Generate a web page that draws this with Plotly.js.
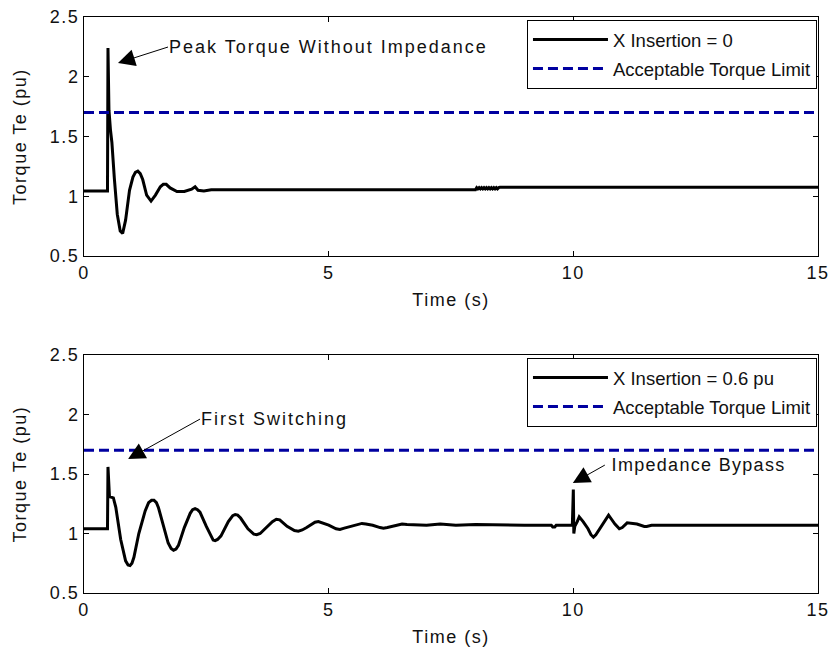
<!DOCTYPE html>
<html>
<head>
<meta charset="utf-8">
<script src="https://cdn.plot.ly/plotly-3.0.1.min.js"></script>
<style>
html,body{margin:0;padding:0;background:#fff;}
#chart{width:833px;height:655px;}
.xtick text, .ytick text, .x2tick text, .y2tick text,
.xtitle, .ytitle, .x2title, .y2title {letter-spacing:1.5px;}
.annotation-text {letter-spacing:2px;}
g.annotation[data-index="2"] .annotation-text {letter-spacing:1.3px;}
</style>
</head>
<body>
<div id="chart"></div>
<script>
// ---- data ----
var timeTop = [0, 0.48, 0.49, 0.51, 0.54, 0.57, 0.62, 0.68, 0.74, 0.79, 0.85, 0.93, 1.0, 1.05, 1.1, 1.15, 1.2, 1.28, 1.37, 1.46, 1.56, 1.62, 1.68, 1.76, 1.9, 2.05, 2.2, 2.27, 2.33, 2.45, 2.6, 8.0, 8.025, 8.05, 8.075, 8.1, 8.125, 8.15, 8.175, 8.2, 8.225, 8.25, 8.275, 8.3, 8.325, 8.35, 8.375, 8.4, 8.425, 8.45, 8.475, 8.5, 15];
var torqueTop = [1.045, 1.045, 2.24, 1.72, 1.56, 1.45, 1.15, 0.85, 0.71, 0.69, 0.80, 1.05, 1.16, 1.20, 1.21, 1.19, 1.14, 1.01, 0.96, 1.01, 1.08, 1.10, 1.10, 1.07, 1.04, 1.04, 1.06, 1.08, 1.05, 1.045, 1.055, 1.055, 1.072, 1.062, 1.072, 1.062, 1.072, 1.062, 1.072, 1.062, 1.072, 1.062, 1.072, 1.062, 1.072, 1.062, 1.072, 1.062, 1.072, 1.062, 1.072, 1.075, 1.075];

var timeBot = [0, 0.48, 0.49, 0.52, 0.6, 0.65, 0.75, 0.85, 0.9, 0.94, 0.98, 1.02, 1.12, 1.25, 1.32, 1.38, 1.43, 1.48, 1.52, 1.62, 1.72, 1.78, 1.83, 1.88, 1.93, 2.05, 2.17, 2.22, 2.27, 2.32, 2.37, 2.5, 2.6, 2.64, 2.68, 2.73, 2.8, 2.95, 3.04, 3.09, 3.14, 3.2, 3.35, 3.47, 3.53, 3.6, 3.7, 3.85, 3.93, 4.0, 4.15, 4.3, 4.38, 4.46, 4.55, 4.72, 4.79, 4.86, 5.0, 5.15, 5.23, 5.32, 5.45, 5.6, 5.68, 5.76, 5.9, 6.05, 6.12, 6.2, 6.3, 6.45, 6.5, 6.6, 6.8, 7.0, 7.28, 7.6, 8.0, 8.5, 9.0, 9.55, 9.58, 9.62, 9.65, 9.98, 9.99, 10.0, 10.01, 10.03, 10.08, 10.12, 10.2, 10.3, 10.36, 10.41, 10.46, 10.55, 10.65, 10.72, 10.78, 10.85, 10.94, 11.0, 11.1, 11.3, 11.45, 11.5, 11.6, 15];
var torqueBot = [1.04, 1.04, 1.56, 1.31, 1.30, 1.22, 0.95, 0.77, 0.735, 0.73, 0.75, 0.80, 1.0, 1.19, 1.26, 1.28, 1.28, 1.26, 1.22, 1.06, 0.92, 0.875, 0.86, 0.87, 0.90, 1.05, 1.17, 1.20, 1.21, 1.20, 1.18, 1.06, 0.97, 0.945, 0.94, 0.95, 0.98, 1.10, 1.15, 1.16, 1.155, 1.13, 1.04, 0.995, 0.99, 1.0, 1.04, 1.10, 1.12, 1.115, 1.06, 1.025, 1.02, 1.03, 1.05, 1.095, 1.10, 1.09, 1.07, 1.04, 1.035, 1.045, 1.06, 1.08, 1.085, 1.08, 1.07, 1.05, 1.045, 1.05, 1.06, 1.075, 1.08, 1.075, 1.07, 1.07, 1.08, 1.07, 1.075, 1.07, 1.07, 1.07, 1.055, 1.055, 1.07, 1.07, 1.37, 1.37, 1.00, 1.06, 1.10, 1.14, 1.10, 1.04, 0.99, 0.97, 0.99, 1.05, 1.12, 1.155, 1.12, 1.08, 1.04, 1.05, 1.09, 1.08, 1.06, 1.06, 1.07, 1.07];

var limitTime = [0, 15];
var limitValue = [1.7, 1.7];

var xTickVals = [0, 5, 10, 15];
var xTickText = ['0', '5', '10', '15'];
var yTickVals = [0.5, 1, 1.5, 2, 2.5];
var yTickText = ['0.5', '1', '1.5', '2', '2.5'];

var nameTop = 'X Insertion = 0';
var nameBot = 'X Insertion = 0.6 pu';
var nameLimit = 'Acceptable Torque Limit';

// ---- styling ----
var FONT = 'Liberation Sans, Arial, sans-serif';
var LIMIT_COLOR = '#0000a0';
var TXT = '#111';

var traces = [
  {x: timeTop, y: torqueTop, type: 'scatter', mode: 'lines', name: nameTop,
   line: {color: '#000', width: 3}, xaxis: 'x', yaxis: 'y', legend: 'legend', legendgroup: 'a'},
  {x: limitTime, y: limitValue, type: 'scatter', mode: 'lines', name: nameLimit,
   line: {color: LIMIT_COLOR, width: 3, dash: '10px,5px'}, xaxis: 'x', yaxis: 'y', legend: 'legend', legendgroup: 'b'},
  {x: timeBot, y: torqueBot, type: 'scatter', mode: 'lines', name: nameBot,
   line: {color: '#000', width: 3}, xaxis: 'x2', yaxis: 'y2', legend: 'legend2', legendgroup: 'c'},
  {x: limitTime, y: limitValue, type: 'scatter', mode: 'lines', name: nameLimit,
   line: {color: LIMIT_COLOR, width: 3, dash: '10px,5px'}, xaxis: 'x2', yaxis: 'y2', legend: 'legend2', legendgroup: 'd'}
];

function xAxis(anchor) {
  return {
    anchor: anchor, range: [0, 15], tickvals: xTickVals, ticktext: xTickText,
    ticks: 'inside', ticklen: 5, tickcolor: '#000', showline: true, linecolor: '#000',
    linewidth: 1, mirror: 'ticks', showgrid: false, zeroline: false,
    tickfont: {family: FONT, size: 18, color: TXT},
    title: {text: 'Time (s)', font: {family: FONT, size: 18, color: TXT}, standoff: 11},
    fixedrange: true
  };
}
function yAxis(anchor, domain) {
  return {
    anchor: anchor, domain: domain, range: [0.5, 2.5], tickvals: yTickVals, ticktext: yTickText,
    ticks: 'inside', ticklen: 5, tickcolor: '#000', showline: true, linecolor: '#000',
    linewidth: 1, mirror: 'ticks', showgrid: false, zeroline: false,
    tickfont: {family: FONT, size: 18, color: TXT},
    title: {text: 'Torque Te (pu)', font: {family: FONT, size: 18, color: TXT}, standoff: 18},
    fixedrange: true
  };
}

function legendBox(y) {
  return {
    x: 0.9986, xanchor: 'right', y: y, yanchor: 'top',
    bgcolor: '#fff', bordercolor: '#000', borderwidth: 1,
    font: {family: FONT, size: 18.5, color: TXT},
    itemwidth: 75, tracegroupgap: 2, traceorder: 'grouped'
  };
}

var annFont = {family: FONT, size: 18, color: TXT};
function ann(xr, yr, x, y, ax, ay, text) {
  return {xref: xr, yref: yr, x: x, y: y, ax: ax, ay: ay, axref: 'pixel', ayref: 'pixel',
    text: text, showarrow: true, arrowhead: 2, arrowsize: 3.4, arrowwidth: 1,
    arrowcolor: '#000', xanchor: 'left', yanchor: 'middle', font: annFont, borderpad: 0};
}

var layout = {
  width: 833, height: 655,
  margin: {l: 84, r: 15, t: 17, b: 62},
  paper_bgcolor: '#fff', plot_bgcolor: '#fff',
  showlegend: true,
  xaxis: xAxis('y'),
  yaxis: yAxis('x', [0.585, 1]),
  xaxis2: xAxis('y2'),
  yaxis2: yAxis('x2', [0, 0.413]),
  legend: legendBox(0.9948),
  legend2: legendBox(0.408),
  annotations: [
    ann('x', 'y', 0.695, 2.115, 50, -16, 'Peak Torque Without Impedance'),
    ann('x2', 'y2', 0.9, 1.626, 72, -40, 'First Switching'),
    ann('x2', 'y2', 9.99, 1.424, 32, -18, 'Impedance Bypass')
  ]
};

Plotly.newPlot('chart', traces, layout, {displayModeBar: false, staticPlot: true});
</script>
</body>
</html>
